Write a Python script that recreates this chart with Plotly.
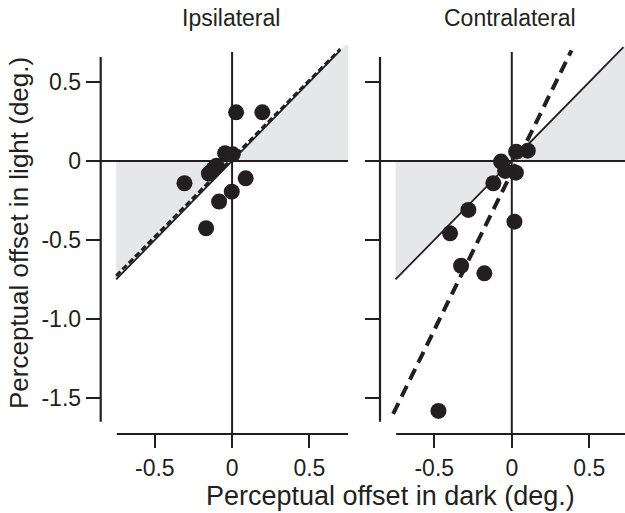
import plotly.graph_objects as go

# ---------------- data ----------------
ipsi_dark = [0.026, 0.196, -0.045, 0.004, -0.10, -0.12, -0.15, -0.308, 0.088, -0.002, -0.084, -0.168]
ipsi_light = [0.308, 0.308, 0.049, 0.042, -0.03, -0.05, -0.08, -0.141, -0.11, -0.194, -0.257, -0.426]

contra_dark = [0.103, 0.028, -0.069, -0.043, 0.026, -0.119, -0.28, -0.398, 0.017, -0.327, -0.177, -0.473]
contra_light = [0.065, 0.059, -0.004, -0.063, -0.074, -0.141, -0.31, -0.458, -0.384, -0.663, -0.711, -1.582]

# identity (unity) line extent, shaded zones and fitted regression lines
unity_x = [-0.75, 0.70]
unity_x_right = [-0.75, 0.72]
shade_left_x = [-0.75, 0.0, -0.75]
shade_left_y = [0.0, 0.0, -0.75]
shade_right_x = [0.0, 0.75, 0.75]
shade_right_y = [0.0, 0.0, 0.75]

ipsi_fit_x = [-0.75, 0.70]
ipsi_fit_slope, ipsi_fit_icpt = 0.99, 0.015
contra_fit_x = [-0.765, 0.385]
contra_fit_slope, contra_fit_icpt = 2.0, -0.07

x_ticks = [-0.5, 0, 0.5]
x_tick_text = ["-0.5", "0", "0.5"]
y_ticks = [0.5, 0, -0.5, -1.0, -1.5]
y_tick_text = ["0.5", "0", "-0.5", "-1.0", "-1.5"]

panel_titles = ["Ipsilateral", "Contralateral"]
x_title = "Perceptual offset in dark (deg.)"
y_title = "Perceptual offset in light (deg.)"

# ---------------- style ----------------
W, H = 625, 513
INK = "#231f20"
GRAY = "#e6e7e8"
FONT = "Liberation Sans"

def fx(px):
    return px / W

def fy(py):
    return 1 - py / H

fig = go.Figure()

def add_panel(xa, ya, dark, light, fit_x, slope, icpt, ux, dash, dwidth):
    fig.add_trace(go.Scatter(x=shade_left_x, y=shade_left_y, fill="toself", fillcolor=GRAY,
                             line=dict(width=0), mode="lines", hoverinfo="skip",
                             xaxis=xa, yaxis=ya, showlegend=False))
    fig.add_trace(go.Scatter(x=shade_right_x, y=shade_right_y, fill="toself", fillcolor=GRAY,
                             line=dict(width=0), mode="lines", hoverinfo="skip",
                             xaxis=xa, yaxis=ya, showlegend=False))
    fig.add_trace(go.Scatter(x=ux, y=ux, mode="lines", line=dict(color=INK, width=1.8),
                             xaxis=xa, yaxis=ya, showlegend=False))
    fig.add_trace(go.Scatter(x=fit_x, y=[slope * v + icpt for v in fit_x], mode="lines",
                             line=dict(color=INK, width=dwidth, dash=dash),
                             xaxis=xa, yaxis=ya, showlegend=False))
    fig.add_trace(go.Scatter(x=dark, y=light, mode="markers",
                             marker=dict(color=INK, size=16, line=dict(width=0)),
                             xaxis=xa, yaxis=ya, showlegend=False))

add_panel("x", "y", ipsi_dark, ipsi_light, ipsi_fit_x, ipsi_fit_slope, ipsi_fit_icpt,
          unity_x, "6px,3px", 3)
add_panel("x2", "y2", contra_dark, contra_light, contra_fit_x, contra_fit_slope, contra_fit_icpt,
          unity_x_right, "12px,7px", 4)

Y_RANGE = [-1.728, 0.734]
Y_DOMAIN = [fy(434), fy(45)]

axis_common = dict(showgrid=False, zeroline=False, showline=False, ticks="outside",
                   tickwidth=2, tickcolor=INK,
                   tickfont=dict(family=FONT, size=23, color=INK))

fig.update_layout(
    width=W, height=H, margin=dict(l=0, r=0, t=0, b=0),
    paper_bgcolor="white", plot_bgcolor="white", showlegend=False,
    xaxis=dict(domain=[fx(100.7), fx(348)], range=[-0.85, 0.75], anchor="y",
               tickvals=x_ticks, ticktext=x_tick_text, ticklen=13, **axis_common),
    yaxis=dict(domain=Y_DOMAIN, range=Y_RANGE, anchor="x",
               tickvals=y_ticks, ticktext=y_tick_text, ticklen=14, **axis_common),
    xaxis2=dict(domain=[fx(380), 1.0], range=[-0.85, 0.73], anchor="y2",
                tickvals=x_ticks, ticktext=x_tick_text, ticklen=13, **axis_common),
    yaxis2=dict(domain=Y_DOMAIN, range=Y_RANGE, anchor="x2",
                tickvals=y_ticks, ticktext=y_tick_text, ticklen=14, showticklabels=False,
                **axis_common),
)

shapes = []
for xr, yr in (("x", "y"), ("x2", "y2")):
    # detached y axis line
    shapes.append(dict(type="line", xref=f"{xr} domain", yref=yr, x0=0, x1=0, y0=-1.65, y1=0.658,
                       line=dict(color=INK, width=2.2)))
    # detached x axis line
    shapes.append(dict(type="line", xref=xr, yref=f"{yr} domain", x0=-0.746, x1=0.75, y0=0, y1=0,
                       line=dict(color=INK, width=2.2)))
    # zero lines
    shapes.append(dict(type="line", xref=xr, yref=yr, x0=0, x1=0, y0=Y_RANGE[0], y1=0.69,
                       line=dict(color=INK, width=2)))
    shapes.append(dict(type="line", xref=f"{xr} domain", yref=yr, x0=0, x1=1, y0=0, y1=0,
                       line=dict(color=INK, width=2)))
fig.update_layout(shapes=shapes)

def ann(text, px, py, size, angle=0):
    return dict(text=text, x=fx(px), y=fy(py), xref="paper", yref="paper",
                xanchor="center", yanchor="middle", textangle=angle,
                showarrow=False, font=dict(family=FONT, size=size, color=INK))

annotations = [
    ann(panel_titles[0], 231, 18, 23),
    ann(panel_titles[1], 510, 18, 23),
    ann(x_title, 390, 496, 27),
    ann(y_title, 19, 233, 26, -90),
]
fig.update_layout(annotations=annotations)

fig.write_html(
    "out.html",
    config={"displayModeBar": False, "staticPlot": True},
    post_script="document.body.style.margin='0';document.body.style.overflow='hidden';",
)
